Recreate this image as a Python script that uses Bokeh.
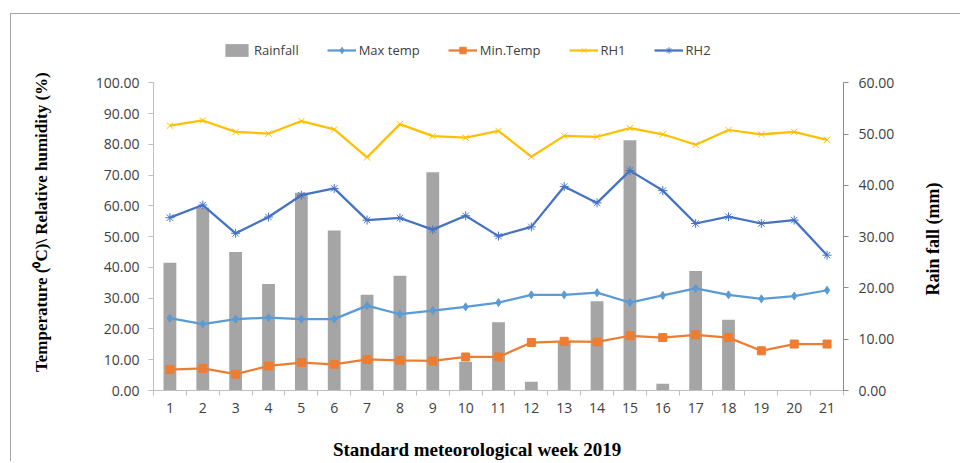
from bokeh.plotting import figure
from bokeh.layouts import row
from bokeh.models import Range1d, LinearAxis, FixedTicker, Legend, LegendItem, NumeralTickFormatter, Title
from bokeh.embed import file_html
from bokeh.resources import INLINE

weeks = list(range(1, 22))
rainfall = [24.9, 35.7, 27.0, 20.8, 38.6, 31.2, 18.7, 22.4, 42.6, 5.6, 13.3,
            1.7, 9.6, 17.4, 48.8, 1.3, 23.3, 13.8, 0, 0, 0]
max_temp = [23.5, 21.6, 23.2, 23.7, 23.2, 23.2, 27.6, 24.8, 26.0, 27.2, 28.6,
            31.1, 31.1, 31.8, 28.6, 30.9, 33.2, 31.1, 29.8, 30.7, 32.6]
min_temp = [6.8, 7.2, 5.3, 8.0, 9.1, 8.5, 10.1, 9.8, 9.6, 10.9, 10.9,
            15.6, 16.0, 15.8, 17.8, 17.2, 18.1, 17.2, 12.9, 15.1, 15.1]
rh1 = [86.1, 87.8, 84.1, 83.5, 87.6, 84.9, 75.8, 86.6, 82.7, 82.2, 84.4,
       76.0, 82.8, 82.5, 85.3, 83.3, 79.9, 84.7, 83.3, 84.1, 81.5]
rh2 = [56.2, 60.3, 51.1, 56.4, 63.5, 65.7, 55.4, 56.1, 52.3, 56.8, 50.2,
       53.2, 66.3, 61.0, 71.5, 65.0, 54.3, 56.5, 54.3, 55.4, 44.0]
left_ticks = [0, 10, 20, 30, 40, 50, 60, 70, 80, 90, 100]
right_ticks = [0, 10, 20, 30, 40, 50, 60]

TICK_FONT = "Open Sans"
TITLE_FONT = "Liberation Serif"
AX_COL = "#BFBFBF"
LBL_COL = "#404040"
NB = "\u00a0"
FRAME_LINE = "1px solid #A6A6A6"

# frame extends above the axes' top so that the legend can sit inside it
AXIS_PX = 311.0     # pixel height of the 0..100 axis
FRAME_PX = 362.0    # pixel height of the frame
left_end = 100 * FRAME_PX / AXIS_PX
right_end = 60 * FRAME_PX / AXIS_PX
BORDER_TOP = 18
BORDER_BOTTOM = 66

p = figure(width=904, height=448, x_range=Range1d(0.5, 21.5), y_range=Range1d(0, left_end),
           output_backend="svg", toolbar_location=None,
           min_border_left=142, min_border_right=72,
           min_border_top=BORDER_TOP, min_border_bottom=BORDER_BOTTOM)
p.margin = (13, 0, 0, 10)
p.styles = {"border-left": FRAME_LINE, "border-top": FRAME_LINE}
p.outline_line_color = None
p.xgrid.visible = False
p.ygrid.visible = False
p.background_fill_color = "white"

p.extra_y_ranges = {"rain": Range1d(0, right_end)}

bars = p.vbar(x=weeks, top=rainfall, width=0.39, y_range_name="rain",
              fill_color="#A5A5A5", line_color=None)

l1 = p.line(weeks, max_temp, line_color="#5B9BD5", line_width=2.25)
m1 = p.scatter(weeks, max_temp, marker="diamond", size=8, fill_color="#5B9BD5", line_color="#5B9BD5")
l2 = p.line(weeks, min_temp, line_color="#ED7D31", line_width=2.25)
m2 = p.scatter(weeks, min_temp, marker="square", size=8, fill_color="#ED7D31", line_color="#ED7D31")
l3 = p.line(weeks, rh1, line_color="#FFC000", line_width=2.25)
m3 = p.scatter(weeks, rh1, marker="x", size=9, line_color="#FFC000", line_width=1)
l4 = p.line(weeks, rh2, line_color="#4472C4", line_width=2.25)
m4 = p.scatter(weeks, rh2, marker="asterisk", size=9, line_color="#4472C4", line_width=1)

# x axis
xa = p.xaxis[0]
xa.ticker = FixedTicker(ticks=weeks, minor_ticks=[0.5 + i for i in range(22)])
xa.major_tick_out = 0
xa.major_tick_in = 0
xa.minor_tick_out = 5
xa.minor_tick_in = 0
xa.minor_tick_line_color = AX_COL
xa.axis_line_color = AX_COL
xa.major_label_text_font = TICK_FONT
xa.major_label_text_font_size = "14px"
xa.major_label_text_color = LBL_COL
xa.major_label_standoff = 7
xa.axis_label = "Standard meteorological week 2019" + NB * 9
xa.axis_label_text_font = TITLE_FONT
xa.axis_label_text_font_style = "bold"
xa.axis_label_text_font_size = "19px"
xa.axis_label_text_color = "black"
xa.axis_label_standoff = 23

# left axis
ya = p.yaxis[0]
ya.ticker = FixedTicker(ticks=left_ticks)
ya.formatter = NumeralTickFormatter(format="0.00")
ya.bounds = (0, 100)
ya.major_tick_out = 5
ya.major_tick_in = 0
ya.minor_tick_out = 0
ya.minor_tick_in = 0
ya.major_tick_line_color = AX_COL
ya.axis_line_color = AX_COL
ya.major_label_text_font = TICK_FONT
ya.major_label_text_font_size = "14px"
ya.major_label_text_color = LBL_COL
ya.major_label_standoff = 9
ya.axis_label = "Temperature (\u2070C)\\  Relative humidity (%)" + NB * 4
ya.axis_label_text_font = TITLE_FONT
ya.axis_label_text_font_style = "bold"
ya.axis_label_text_font_size = "17px"
ya.axis_label_text_color = "black"
ya.axis_label_standoff = 42

# right axis (ticks only; its title is drawn by the narrow strip figure)
ra = LinearAxis(y_range_name="rain", ticker=FixedTicker(ticks=right_ticks),
                formatter=NumeralTickFormatter(format="0.00"), bounds=(0, 60))
ra.major_tick_out = 5
ra.major_tick_in = 0
ra.minor_tick_out = 0
ra.minor_tick_in = 0
ra.major_tick_line_color = "#8C8C8C"
ra.axis_line_color = "#8C8C8C"
ra.major_label_text_font = TICK_FONT
ra.major_label_text_font_size = "14px"
ra.major_label_text_color = LBL_COL
ra.major_label_standoff = 10
p.add_layout(ra, "right")

legend = Legend(items=[
    LegendItem(label="Rainfall", renderers=[bars]),
    LegendItem(label="Max temp", renderers=[l1, m1]),
    LegendItem(label="Min.Temp", renderers=[l2, m2]),
    LegendItem(label="RH1", renderers=[l3, m3]),
    LegendItem(label="RH2", renderers=[l4, m4]),
], orientation="horizontal", location=(69, 331))
legend.glyph_width = 29
legend.glyph_height = 16
legend.label_standoff = 3
legend.spacing = 28
legend.padding = 0
legend.margin = 0
legend.border_line_color = None
legend.background_fill_alpha = 0
legend.label_text_font = TICK_FONT
legend.label_text_font_size = "13px"
legend.label_text_color = LBL_COL
p.add_layout(legend, "center")

# narrow strip to the right carrying the secondary-axis title (reads bottom to top)
q = figure(width=46, height=448, x_range=Range1d(0, 1), y_range=Range1d(0, 1),
           output_backend="svg", toolbar_location=None,
           min_border_left=33, min_border_right=8,
           min_border_top=BORDER_TOP, min_border_bottom=BORDER_BOTTOM)
q.margin = (13, 0, 0, 0)
q.styles = {"border-top": FRAME_LINE}
q.outline_line_color = None
q.xgrid.visible = False
q.ygrid.visible = False
q.xaxis.visible = False
q.yaxis.visible = False
rain_title = Title(text="Rain fall (mm)", align="left", offset=95,
                   text_font=TITLE_FONT, text_font_style="bold",
                   text_font_size="18px", text_color="black")
q.add_layout(rain_title, "left")

layout = row(p, q)
layout.spacing = 0

open("out.html", "w").write(file_html(layout, INLINE))
